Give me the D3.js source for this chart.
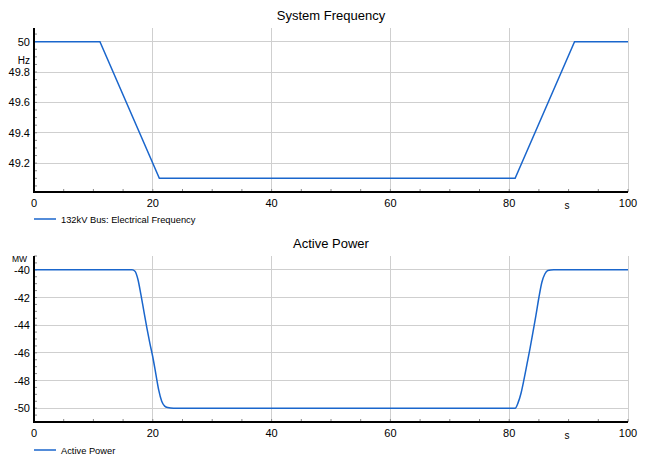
<!DOCTYPE html>
<html><head><meta charset="utf-8">
<script src="https://cdn.jsdelivr.net/npm/d3@7"></script>
<style>
body{margin:0;background:#fff;}
text{font-family:"Liberation Sans",Arial,sans-serif;fill:#000;}
</style></head>
<body><svg id="c" width="647" height="456"></svg>
<script>
// ---- data ----
const freqTime  = [0, 11.1, 21.1, 81.0, 91.0, 100];
const freqValue = [50, 50, 49.1, 49.1, 50, 50];
const powerTime  = [0, 16.5, 17, 17.5, 18, 18.5, 19, 19.5, 20, 20.5, 21, 21.5, 22, 22.5, 23.5,
                    81.0, 81.5, 82, 82.5, 83, 83.5, 84, 84.5, 85, 85.5, 86, 86.5, 87.5, 100];
const powerValue = [-40, -40, -40.1, -40.7, -41.8, -43.0, -44.2, -45.3, -46.3, -47.5, -48.7, -49.5, -49.85, -49.95, -50,
                    -50, -49.6, -48.9, -47.9, -46.8, -45.7, -44.5, -43.3, -42.0, -40.9, -40.3, -40.05, -40, -40];
const xTicks = [0, 20, 40, 60, 80, 100];
const freqTicks = [49.2, 49.4, 49.6, 49.8, 50];
const powerTicks = [-50, -48, -46, -44, -42, -40];
const titles = ["System Frequency", "Active Power"];
const units = ["Hz", "MW"];
const legends = ["132kV Bus: Electrical Frequency", "Active Power"];

const svg = d3.select("#c");
const lineColor = "#1a66cc";

function panel(o){
  const g = svg.append("g");
  const x = d3.scaleLinear().domain([0,100]).range([34,628]);
  const y = d3.scaleLinear().domain(o.domain).range([o.bottom, o.top]);
  g.append("text").attr("x",331).attr("y",o.titleY).attr("text-anchor","middle")
    .style("font-size","13px").text(o.title);
  g.append("g").selectAll("line").data(o.yTicks).join("line")
    .attr("x1",34).attr("x2",628).attr("y1",d=>y(d)).attr("y2",d=>y(d))
    .attr("stroke","#cfcfcf").attr("stroke-width",1).attr("shape-rendering","crispEdges");
  g.append("g").selectAll("line").data(xTicks.slice(1)).join("line")
    .attr("x1",d=>x(d)).attr("x2",d=>x(d)).attr("y1",o.top).attr("y2",o.bottom)
    .attr("stroke","#cfcfcf").attr("stroke-width",1).attr("shape-rendering","crispEdges");
  const xMinor = d3.range(0,100.01,5);
  g.append("g").selectAll("line").data(xMinor).join("line")
    .attr("x1",d=>x(d)).attr("x2",d=>x(d)).attr("y1",o.bottom-3).attr("y2",o.bottom)
    .attr("stroke","#888").attr("stroke-width",1);
  const yMinor = d3.range(o.minorStart, o.domain[1]+1e-9, o.minorStep);
  g.append("g").selectAll("line").data(yMinor).join("line")
    .attr("x1",34).attr("x2",37).attr("y1",d=>y(d)).attr("y2",d=>y(d))
    .attr("stroke","#888").attr("stroke-width",1);
  const pts = o.t.map((t,i)=>[t,o.v[i]]);
  g.append("path").datum(pts)
    .attr("d", d3.line().x(d=>x(d[0])).y(d=>y(d[1])).curve(o.curve))
    .attr("fill","none").attr("stroke",lineColor).attr("stroke-width",1.5);
  g.append("line").attr("x1",34).attr("x2",34).attr("y1",o.top).attr("y2",o.bottom+1)
    .attr("stroke","#000").attr("stroke-width",2);
  g.append("line").attr("x1",33).attr("x2",628).attr("y1",o.bottom).attr("y2",o.bottom)
    .attr("stroke","#000").attr("stroke-width",2);
  g.append("g").selectAll("text").data(xTicks).join("text")
    .attr("x",d=>x(d)).attr("y",o.bottom+15).attr("text-anchor","middle")
    .style("font-size","11px").text(d=>String(d));
  g.append("g").selectAll("text").data(o.yTicks).join("text")
    .attr("x",30).attr("y",d=>y(d)+4).attr("text-anchor","end")
    .style("font-size","11px").text(d=>String(d));
  g.append("text").attr("x",o.unitX).attr("y",o.unitY).attr("text-anchor","end")
    .style("font-size",o.unitSize).text(o.unit);
  g.append("text").attr("x",567).attr("y",o.bottom+17).attr("text-anchor","middle")
    .style("font-size","10px").text("s");
  g.append("line").attr("x1",34).attr("x2",56).attr("y1",o.legendY).attr("y2",o.legendY)
    .attr("stroke",lineColor).attr("stroke-width",1.5);
  g.append("text").attr("x",61).attr("y",o.legendY+3.5)
    .style("font-size","9.3px").text(o.legend);
}

panel({title:titles[0], titleY:20, domain:[49.01,50.09], top:28, bottom:192,
  yTicks:freqTicks, minorStart:49.05, minorStep:0.05, t:freqTime, v:freqValue,
  curve:d3.curveLinear, unit:units[0], unitX:30, unitY:64, unitSize:"10px",
  legend:legends[0], legendY:219});
panel({title:titles[1], titleY:248, domain:[-51,-39], top:256, bottom:422,
  yTicks:powerTicks, minorStart:-50.5, minorStep:0.5, t:powerTime, v:powerValue,
  curve:d3.curveMonotoneX, unit:units[1], unitX:27, unitY:262, unitSize:"8.5px",
  legend:legends[1], legendY:450});
</script></body></html>
